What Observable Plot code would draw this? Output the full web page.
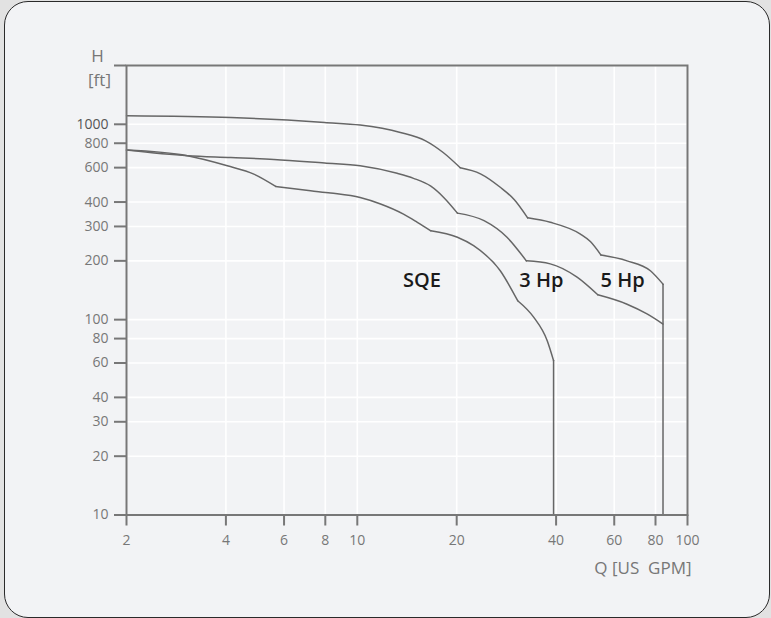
<!DOCTYPE html>
<html><head><meta charset="utf-8">
<script src="https://cdn.jsdelivr.net/npm/d3@7"></script>
<script src="https://cdn.jsdelivr.net/npm/@observablehq/plot@0.6"></script>
<style>
html,body{margin:0;padding:0;background:#e2e2e2;width:771px;height:618px;overflow:hidden}
#box{position:absolute;left:4px;top:1px;width:766px;height:617px;box-sizing:border-box;border:1.5px solid #2a2a2a;border-radius:24px;background:#f2f3f5}
#chart{position:absolute;left:0;top:0}
</style></head><body><div id="box"></div><div id="chart"></div>
<script>
// Pump curves (Q in US GPM, H in ft); last point of SQE and 5 Hp is the vertical drop to the axis
const sqeQ = [2, 3.06, 4.04, 4.86, 5.66, 7.22, 8.3, 10.2, 11.76, 13.8, 15.2, 16.7, 20.1, 22.5, 27.1, 30.6, 34.2, 37.6, 39.3, 39.3];
const sqeH = [738, 690, 613, 556, 481, 457, 445, 422, 391, 347, 315, 285, 264, 239, 178, 125, 103, 78, 61.7, 10];
const sqeKinks = [5.66, 16.7, 30.6];
const hp3Q = [2, 3.06, 4.14, 5.59, 7.96, 10.2, 13.2, 14.8, 16.7, 18.3, 20.1, 24.2, 28.4, 32.5, 38.4, 46.3, 53.5, 65.6, 75.4, 84.3];
const hp3H = [738, 690, 676, 661, 633, 613, 561, 529, 482, 421, 351, 321, 264, 200, 193, 165, 134, 120, 107, 95];
const hp3Kinks = [20.1, 32.5, 53.5];
const hp5Q = [2, 4.14, 6.14, 7.96, 10.2, 13.5, 16.1, 18.2, 20.5, 23.6, 27.1, 29.9, 32.8, 38.4, 47.4, 50.8, 54.7, 65.6, 77.2, 84.3, 84.3];
const hp5H = [1105, 1083, 1051, 1021, 991, 908, 823, 717, 599, 558, 476, 411, 332, 315, 274, 251, 214, 200, 178, 152, 10];
const hp5Kinks = [20.5, 32.8, 54.7];

const labelText = ["SQE", "3 Hp", "5 Hp"];
const labelQ = [15.7, 36.1, 63.6];
const labelH = [159, 159, 159];

const xTicks = [2, 4, 6, 8, 10, 20, 40, 60, 80, 100];
const yTicks = [10, 20, 30, 40, 60, 80, 100, 200, 300, 400, 600, 800, 1000, 2000];
const yTickLabels = [10, 20, 30, 40, 60, 80, 100, 200, 300, 400, 600, 800, 1000];

// split each curve into smooth segments between kinks; drops kept apart
const segs = [], drops = [];
function add(name, qs, hs, kinks, hasDrop) {
  const n = hasDrop ? qs.length - 1 : qs.length;
  let seg = 0;
  for (let i = 0; i < n; i++) {
    segs.push({id: name + seg, q: qs[i], h: hs[i]});
    if (kinks.includes(qs[i]) && i > 0) { seg++; segs.push({id: name + seg, q: qs[i], h: hs[i]}); }
  }
  if (hasDrop) {
    drops.push({id: name, q: qs[n - 1], h: hs[n - 1]});
    drops.push({id: name, q: qs[n], h: hs[n]});
  }
}
add("SQE", sqeQ, sqeH, sqeKinks, true);
add("3Hp", hp3Q, hp3H, hp3Kinks, false);
add("5Hp", hp5Q, hp5H, hp5Kinks, true);
const labels = labelText.map((t, i) => ({t, q: labelQ[i], h: labelH[i]}));

const chart = Plot.plot({
  width: 771, height: 618,
  marginLeft: 126, marginRight: 84, marginTop: 65, marginBottom: 103.5,
  style: {background: "transparent", color: "#777", fontFamily: "'Open Sans', sans-serif", fontSize: "14px"},
  x: {type: "log", domain: [2, 100]},
  y: {type: "log", domain: [10, 2000]},
  marks: [
    Plot.gridX({ticks: xTicks, stroke: "#fff", strokeOpacity: 1, strokeWidth: 1.6}),
    Plot.gridY({ticks: yTicks, stroke: "#fff", strokeOpacity: 1, strokeWidth: 1.6}),
    Plot.line(segs, {x: "q", y: "h", z: "id", stroke: "#666", strokeWidth: 1.5, curve: "monotone-x"}),
    Plot.line(drops, {x: "q", y: "h", z: "id", stroke: "#666", strokeWidth: 1.5}),
    Plot.frame({stroke: "#777", strokeWidth: 2}),
    Plot.axisX({ticks: xTicks, tickSize: 11, tickFormat: () => "", label: null, strokeWidth: 2}),
    Plot.axisY({ticks: yTicks, tickSize: 12, tickFormat: () => "", label: null, strokeWidth: 2}),
    Plot.text(xTicks, {x: d => d, frameAnchor: "bottom", dy: 20.5, lineAnchor: "top", text: d => String(d), fontSize: 14, fill: "#777"}),
    Plot.text(yTickLabels, {y: d => d, frameAnchor: "left", dx: -18, lineAnchor: "middle", textAnchor: "end", text: d => String(d), fontSize: 14, fill: d => d === 1000 ? "#555" : "#777"}),
    Plot.text(labels, {x: "q", y: "h", text: "t", fill: "#1a1a1a", fontSize: 20, fontWeight: 600, lineAnchor: "middle"}),
    Plot.text(["H"], {frameAnchor: "top-left", dx: -29, dy: -4, lineAnchor: "bottom", textAnchor: "middle", fontSize: 17, fill: "#777"}),
    Plot.text(["[ft]"], {frameAnchor: "top-left", dx: -27, dy: 20, lineAnchor: "bottom", textAnchor: "middle", fontSize: 17, fill: "#777"}),
    Plot.text(["Q [US\u00a0\u00a0GPM]"], {frameAnchor: "bottom-right", dx: 4, dy: 58.5, lineAnchor: "bottom", textAnchor: "end", fontSize: 17, fill: "#777"})
  ]
});
document.getElementById("chart").appendChild(chart);
</script></body></html>
